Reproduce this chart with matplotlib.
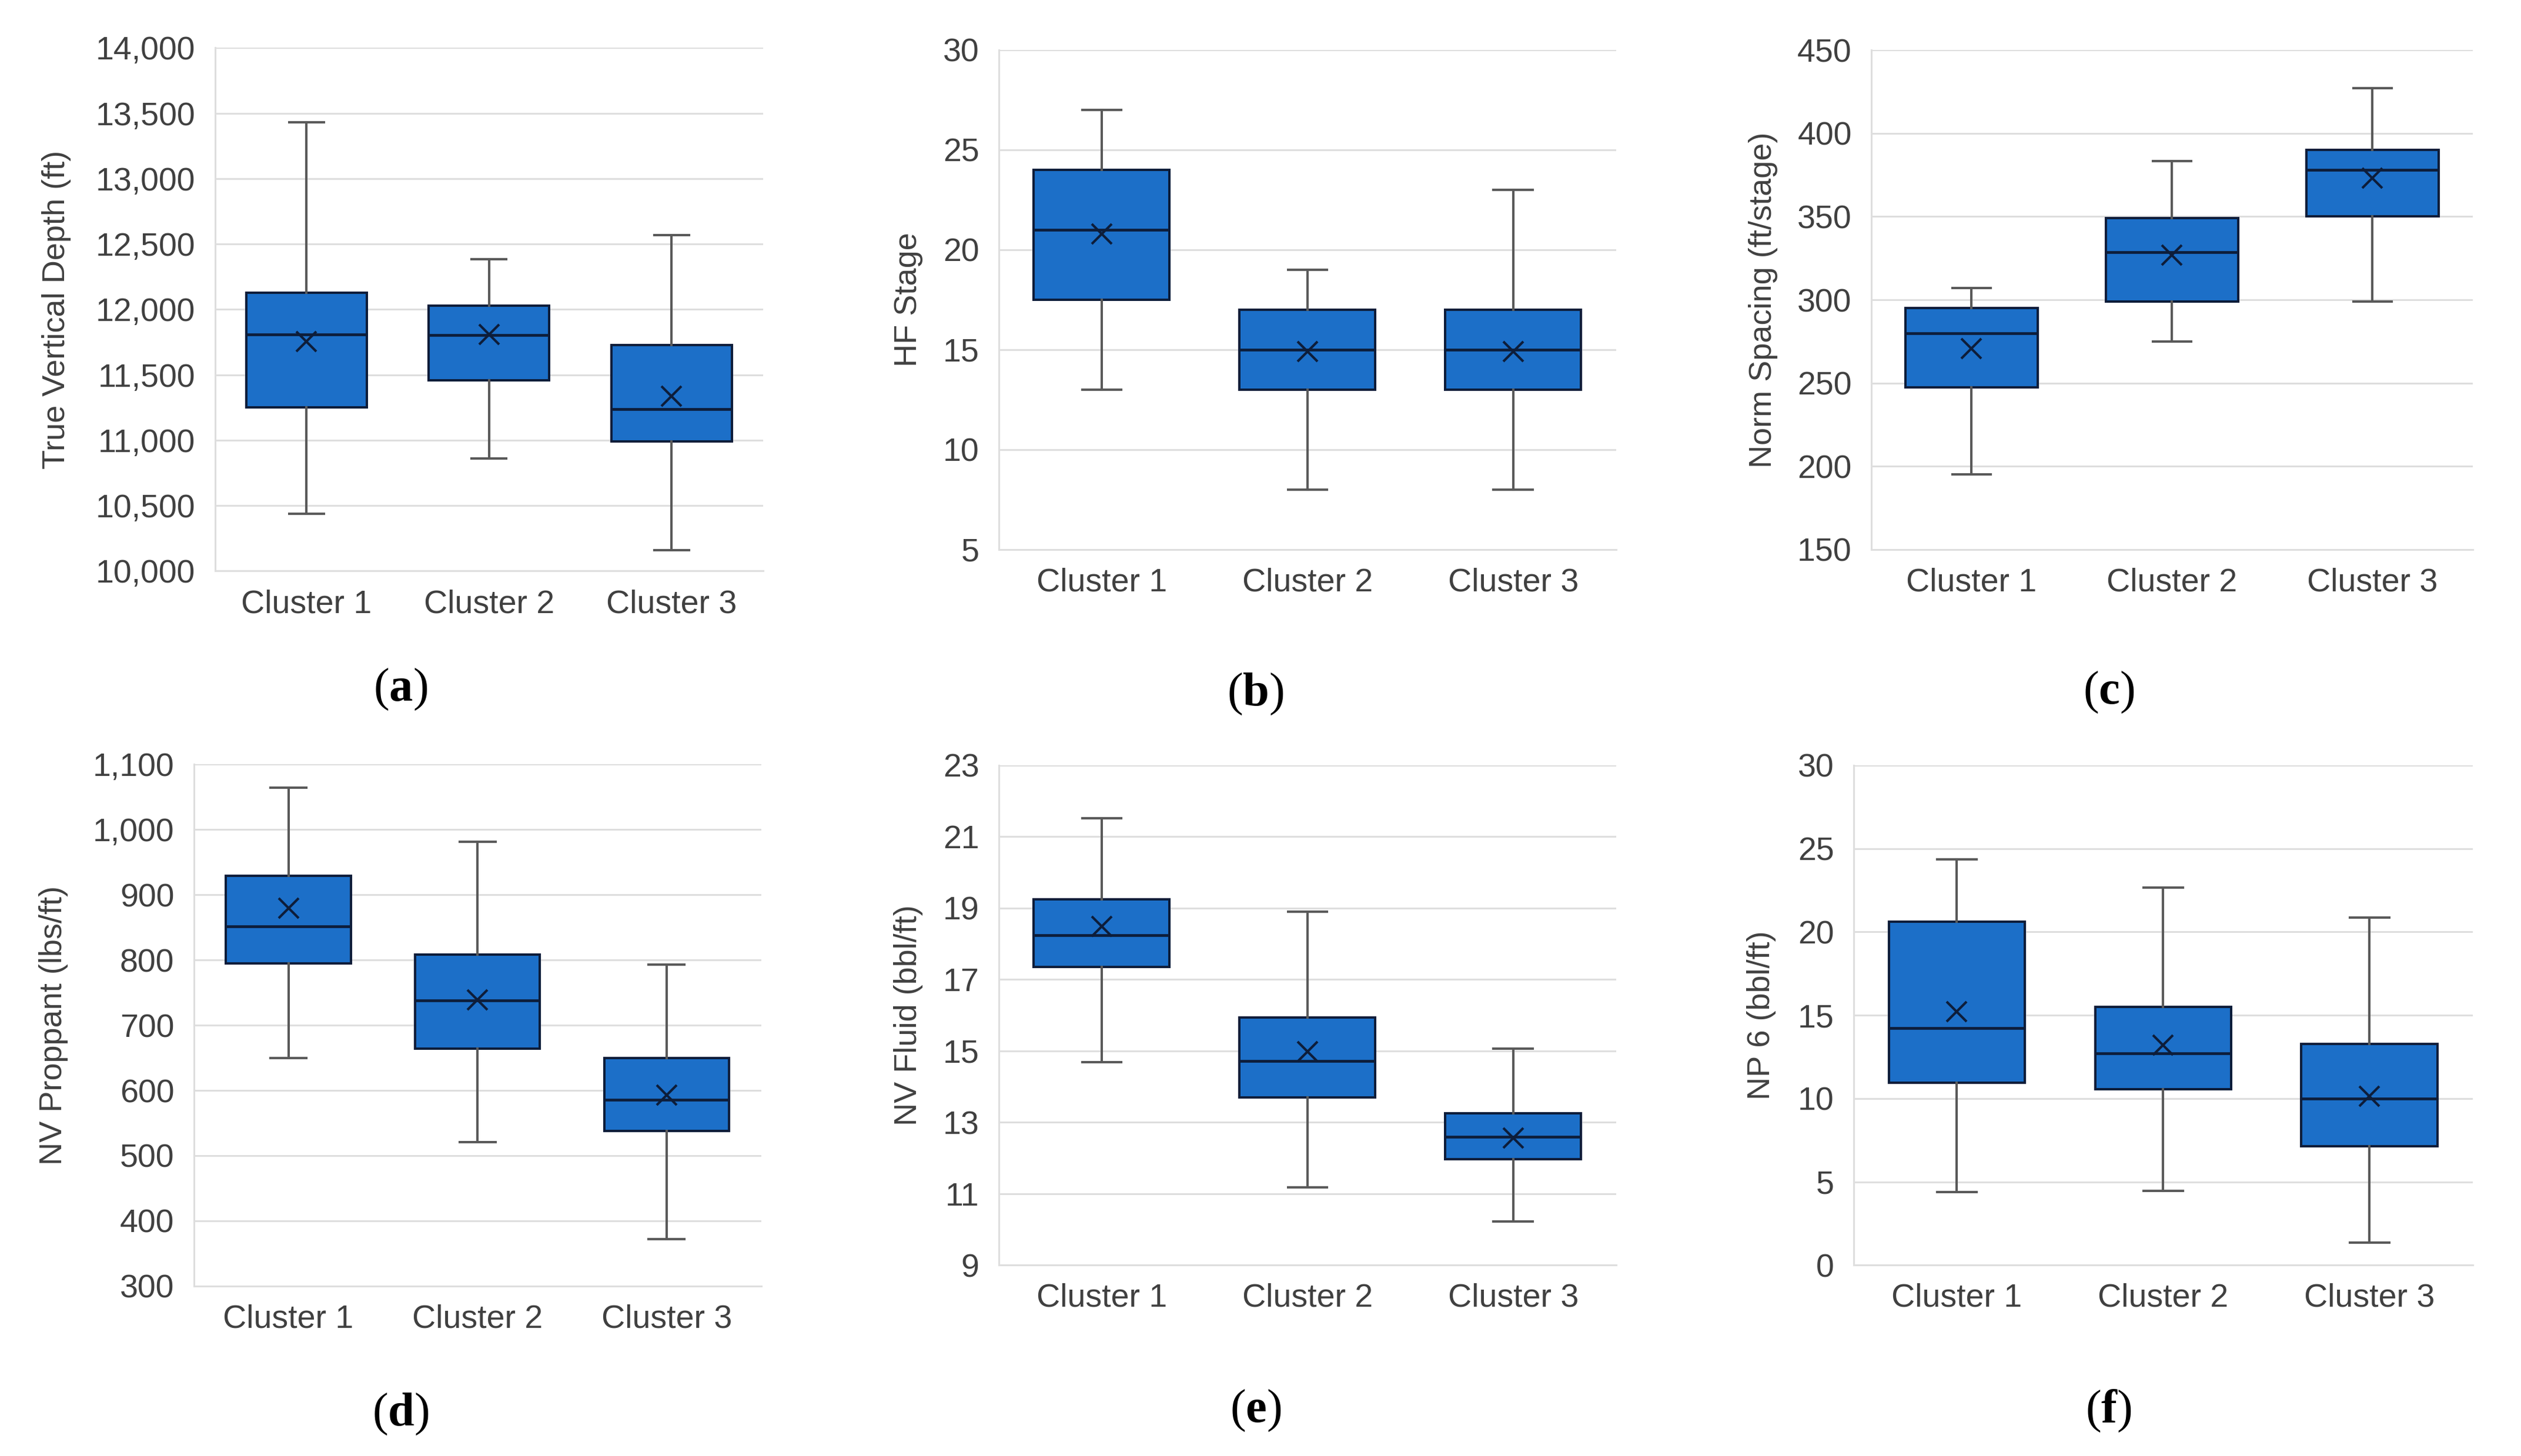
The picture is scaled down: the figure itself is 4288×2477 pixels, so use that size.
import matplotlib
matplotlib.use("Agg")
import matplotlib.pyplot as plt
from matplotlib.ticker import FuncFormatter

CLUSTERS = ["Cluster 1", "Cluster 2", "Cluster 3"]

# (a) true vertical depth
tvd_low = [10440, 10860, 10160]
tvd_q1 = [11250, 11460, 10990]
tvd_med = [11810, 11805, 11240]
tvd_q3 = [12130, 12030, 11730]
tvd_high = [13430, 12385, 12570]
tvd_mean = [11755, 11810, 11335]

# (b) HF stage
hf_low = [13, 8, 8]
hf_q1 = [17.5, 13, 13]
hf_med = [21, 15, 15]
hf_q3 = [24, 17, 17]
hf_high = [27, 19, 23]
hf_mean = [20.8, 14.9, 14.9]

# (c) norm spacing
ns_low = [195, 275, 299]
ns_q1 = [247.5, 299, 350]
ns_med = [280, 328.5, 378]
ns_q3 = [295, 349, 390]
ns_high = [307, 383.5, 427]
ns_mean = [270.7, 327, 373]

# (d) NV proppant
pr_low = [650, 521, 372]
pr_q1 = [795, 664, 538]
pr_med = [851, 738, 586]
pr_q3 = [929, 808, 650]
pr_high = [1064, 981, 793]
pr_mean = [879, 739, 593]

# (e) NV fluid
fl_low = [14.68, 11.18, 10.23]
fl_q1 = [17.35, 13.69, 11.97]
fl_med = [18.24, 14.72, 12.59]
fl_q3 = [19.25, 15.93, 13.25]
fl_high = [21.52, 18.9, 15.07]
fl_mean = [18.48, 14.98, 12.56]

# (f) NP 6
np_low = [4.4, 4.45, 1.34]
np_q1 = [10.96, 10.56, 7.14]
np_med = [14.21, 12.71, 10.0]
np_q3 = [20.6, 15.48, 13.28]
np_high = [24.34, 22.67, 20.86]
np_mean = [15.23, 13.19, 10.14]

# y tick values per panel
tvd_ticks = [10000, 10500, 11000, 11500, 12000, 12500, 13000, 13500, 14000]
hf_ticks = [5, 10, 15, 20, 25, 30]
ns_ticks = [150, 200, 250, 300, 350, 400, 450]
pr_ticks = [300, 400, 500, 600, 700, 800, 900, 1000, 1100]
fl_ticks = [9, 11, 13, 15, 17, 19, 21, 23]
np_ticks = [0, 5, 10, 15, 20, 25, 30]

BOX_COLOR = "#1c6fc8"
EDGE_COLOR = "#0d1d3a"
WHISKER_COLOR = "#5a5a5a"
GRID_COLOR = "#dedede"
TEXT_COLOR = "#404040"

plt.rcParams["font.family"] = ["Liberation Sans", "DejaVu Sans"]
plt.rcParams["mathtext.fontset"] = "custom"
plt.rcParams["mathtext.bf"] = "Liberation Serif:bold"
plt.rcParams["mathtext.rm"] = "Liberation Serif"

comma_fmt = FuncFormatter(lambda v, p: f"{v:,.0f}")

panels = [
    # rect, ylabel, ylabel x, data, ticks, comma, letter, letter pos
    ([0.0853, 0.6078, 0.2173, 0.3593], "True Vertical Depth (ft)", 0.0224,
     (tvd_low, tvd_q1, tvd_med, tvd_q3, tvd_high, tvd_mean), tvd_ticks, True, "a", (0.1588, 0.5267)),
    ([0.3962, 0.6226, 0.2448, 0.3432], "HF Stage", 0.3603,
     (hf_low, hf_q1, hf_med, hf_q3, hf_high, hf_mean), hf_ticks, False, "b", (0.4981, 0.5233)),
    ([0.7423, 0.6226, 0.2385, 0.3430], "Norm Spacing (ft/stage)", 0.6994,
     (ns_low, ns_q1, ns_med, ns_q3, ns_high, ns_mean), ns_ticks, False, "c", (0.8365, 0.5244)),
    ([0.0769, 0.1167, 0.2250, 0.3584], "NV Proppant (lbs/ft)", 0.0212,
     (pr_low, pr_q1, pr_med, pr_q3, pr_high, pr_mean), pr_ticks, True, "d", (0.1588, 0.0289)),
    ([0.3962, 0.1311, 0.2448, 0.3433], "NV Fluid (bbl/ft)", 0.3603,
     (fl_low, fl_q1, fl_med, fl_q3, fl_high, fl_mean), fl_ticks, False, "e", (0.4981, 0.0311)),
    ([0.7353, 0.1311, 0.2455, 0.3433], "NP 6 (bbl/ft)", 0.6987,
     (np_low, np_q1, np_med, np_q3, np_high, np_mean), np_ticks, False, "f", (0.8365, 0.0311)),
]

fig = plt.figure(figsize=(42.88, 24.77), dpi=100)

for rect, ylabel, ylab_x, data, ticks, comma, letter, letter_pos in panels:
    ax = fig.add_axes(rect)
    low, q1, med, q3, high, mean = data
    stats = []
    for i, name in enumerate(CLUSTERS):
        stats.append({"label": name, "whislo": low[i], "q1": q1[i], "med": med[i],
                      "q3": q3[i], "whishi": high[i], "mean": mean[i], "fliers": []})
    ax.bxp(stats, positions=[1, 2, 3], widths=0.66, capwidths=0.19,
           showmeans=True, patch_artist=True, showfliers=False,
           boxprops=dict(facecolor=BOX_COLOR, edgecolor=EDGE_COLOR, linewidth=2.9),
           medianprops=dict(color=EDGE_COLOR, linewidth=3.4),
           whiskerprops=dict(color=WHISKER_COLOR, linewidth=2.9),
           capprops=dict(color=WHISKER_COLOR, linewidth=2.9),
           meanprops=dict(marker="x", markersize=25, markeredgewidth=3.0,
                          markeredgecolor=EDGE_COLOR, markerfacecolor=EDGE_COLOR))
    ax.set_xlim(0.5, 3.5)
    ax.set_ylim(ticks[0], ticks[-1])
    ax.set_yticks(ticks)
    if comma:
        ax.yaxis.set_major_formatter(comma_fmt)
    ax.set_axisbelow(True)
    ax.grid(axis="y", color=GRID_COLOR, linewidth=2.2)
    for side in ["top", "right"]:
        ax.spines[side].set_visible(False)
    ax.spines["left"].set_color(GRID_COLOR)
    ax.spines["left"].set_linewidth(2.2)
    ax.spines["bottom"].set_color(GRID_COLOR)
    ax.spines["bottom"].set_linewidth(2.2)
    ax.tick_params(axis="y", length=0, pad=24, labelsize=40, labelcolor=TEXT_COLOR)
    ax.tick_params(axis="x", length=0, pad=22, labelsize=40, labelcolor=TEXT_COLOR)
    y_mid = rect[1] + rect[3] / 2
    fig.text(ylab_x, y_mid, ylabel, rotation=90, ha="center", va="center",
             fontsize=39, color=TEXT_COLOR)
    fig.text(letter_pos[0], letter_pos[1], "($\\mathbf{" + letter + "}$)",
             ha="center", va="center", fontsize=58, family="Liberation Serif", color="black")

fig.savefig("out.png", dpi=100)
